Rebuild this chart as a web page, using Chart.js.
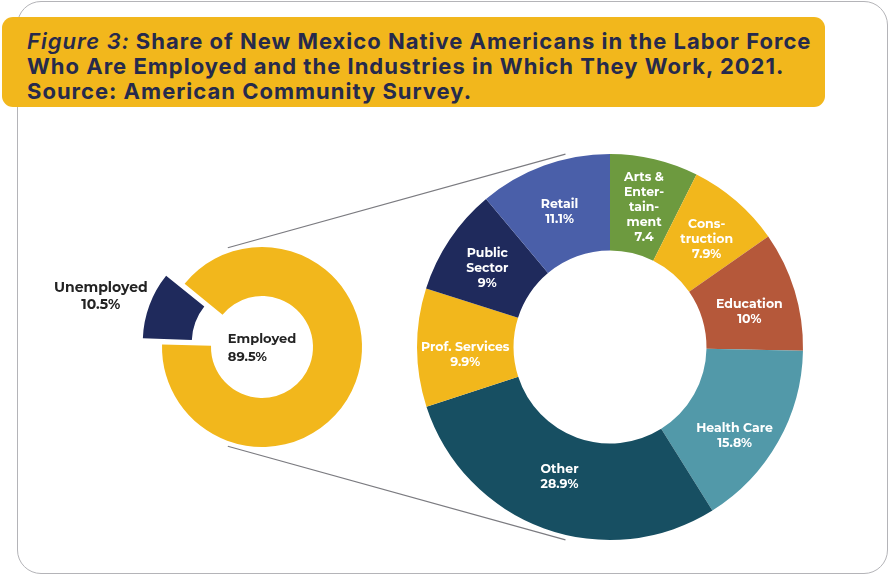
<!DOCTYPE html>
<html>
<head>
<meta charset="utf-8">
<script src="https://cdn.jsdelivr.net/npm/chart.js@4.4.1/dist/chart.umd.min.js"></script>
<style>
  html, body { margin: 0; padding: 0; background: #ffffff; }
  #page { position: relative; width: 892px; height: 577px; overflow: hidden; background: #ffffff; }
  #card {
    position: absolute; left: 17px; top: 1px; width: 871px; height: 573px;
    border: 1.5px solid #b4b4b8; border-radius: 24px; box-sizing: border-box; background: #ffffff;
  }
  #banner {
    position: absolute; left: 2px; top: 17px; width: 823px; height: 90px;
    background: #f2b71c; border-radius: 11px;
  }
  #title {
    position: absolute; left: 27px; top: 29px; margin: 0; white-space: nowrap;
    font-family: "Inter", "Open Sans", sans-serif; font-weight: 700; font-size: 22px;
    line-height: 25px; color: #262a4c; letter-spacing: 1.0px;
  }
  #title em { font-weight: 600; }
  canvas { position: absolute; left: 0; top: 0; }
</style>
</head>
<body>
<div id="page">
  <div id="card"></div>
  <div id="banner"></div>
  <p id="title"><em>Figure 3:</em> Share of New Mexico Native Americans in the Labor Force<br>Who Are Employed and the Industries in Which They Work, 2021.<br>Source: American Community Survey.</p>
  <canvas id="labor" width="892" height="577"></canvas>
  <canvas id="industry" width="892" height="577"></canvas>
</div>
<script>
// Labor force status
const statusLabels = ['Employed', 'Unemployed'];
const statusValues = [89.5, 10.5];
const statusColors = ['#f2b71c', '#1f2a5c'];

// Industries of the employed, clockwise from the top
const industryNames = [
  ['Arts &', 'Enter-', 'tain-', 'ment'],
  ['Cons-', 'truction'],
  ['Education'],
  ['Health Care'],
  ['Other'],
  ['Prof. Services'],
  ['Public', 'Sector'],
  ['Retail']
];
const industryValues = [7.4, 7.9, 10, 15.8, 28.9, 9.9, 9, 11.1];
const industryPercentSign = [false, true, true, true, true, true, true, true];
const industryColors = ['#6d9a3f', '#f2b71c', '#b5583a', '#5299a9', '#174f62', '#f2b71c', '#1f2a5c', '#4a5fa9'];

const LABEL_FONT = '700 12.5px "Montserrat", "Open Sans", sans-serif';
const DARK_FONT = '700 13px "Montserrat", "Open Sans", sans-serif';
const SIDE_FONT = '700 14px "Montserrat", "Open Sans", sans-serif';

function drawLines(ctx, lines, x, y, lineH, align) {
  const top = y - (lines.length - 1) * lineH / 2;
  ctx.textAlign = align || 'center';
  ctx.textBaseline = 'middle';
  lines.forEach((t, i) => ctx.fillText(t, x, top + i * lineH));
}

// Small ring: employed vs. unemployed, with the unemployed slice pulled out
const statusLabelPlugin = {
  id: 'statusLabels',
  afterDatasetsDraw(chart) {
    const ctx = chart.ctx;
    const arcs = chart.getDatasetMeta(0).data;
    const main = arcs[0];
    ctx.save();
    ctx.fillStyle = '#232323';
    ctx.font = DARK_FONT;
    const w = ctx.measureText(statusLabels[0]).width;
    drawLines(ctx, [statusLabels[0], statusValues[0] + '%'], main.x - w / 2, main.y + 1, 18, 'left');
    const un = arcs[1];
    const mid = (un.startAngle + un.endAngle) / 2;
    const r = un.outerRadius * 1.72;
    ctx.font = SIDE_FONT;
    drawLines(ctx, [statusLabels[1], statusValues[1] + '%'], un.x + Math.cos(mid) * r, un.y + Math.sin(mid) * r + 9, 17, 'center');
    ctx.restore();
  }
};

const laborChart = new Chart(document.getElementById('labor'), {
  type: 'doughnut',
  data: {
    labels: statusLabels,
    datasets: [{
      data: statusValues,
      backgroundColor: statusColors,
      borderWidth: 0,
      offset: [0, 58]
    }]
  },
  options: {
    responsive: false,
    animation: false,
    events: [],
    rotation: -50.7,
    cutout: '51%',
    radius: 100,
    layout: { padding: { left: 62, right: 430, top: 147, bottom: 30 } },
    plugins: { legend: { display: false }, tooltip: { enabled: false } }
  },
  plugins: [statusLabelPlugin]
});

// Big ring: industries, plus the two guide lines joining it to the small ring
const industryPlugin = {
  id: 'industryLabels',
  beforeDatasetsDraw(chart) {
    const ctx = chart.ctx;
    const small = laborChart.getDatasetMeta(0).data[0];
    const big = chart.getDatasetMeta(0).data[0];
    const pt = (arc, deg, extra) => {
      const a = (deg - 90) * Math.PI / 180;
      const r = arc.outerRadius + extra;
      return [arc.x + Math.cos(a) * r, arc.y + Math.sin(a) * r];
    };
    ctx.save();
    ctx.strokeStyle = '#7b7b80';
    ctx.lineWidth = 1.2;
    [[-19, -13], [199, 193]].forEach(([a1, a2]) => {
      const p = pt(small, a1, 5);
      const q = pt(big, a2, 5);
      ctx.beginPath();
      ctx.moveTo(p[0], p[1]);
      ctx.lineTo(q[0], q[1]);
      ctx.stroke();
    });
    ctx.restore();
  },
  afterDatasetsDraw(chart, args, opts) {
    const ctx = chart.ctx;
    const arcs = chart.getDatasetMeta(0).data;
    const nudge = opts.nudge || {};
    ctx.save();
    ctx.fillStyle = '#ffffff';
    ctx.font = LABEL_FONT;
    arcs.forEach((arc, i) => {
      const mid = (arc.startAngle + arc.endAngle) / 2;
      const r = (arc.innerRadius + arc.outerRadius) / 2 + 3;
      const [nx, ny] = nudge[i] || [0, 0];
      const v = industryValues[i] + (industryPercentSign[i] ? '%' : '');
      drawLines(ctx, industryNames[i].concat([v]),
        arc.x + Math.cos(mid) * r + nx, arc.y + Math.sin(mid) * r + 4 + ny, 15, 'center');
    });
    ctx.restore();
  }
};

new Chart(document.getElementById('industry'), {
  type: 'doughnut',
  data: {
    labels: industryNames.map(n => n.join(' ')),
    datasets: [{
      data: industryValues,
      backgroundColor: industryColors,
      borderWidth: 0
    }]
  },
  options: {
    responsive: false,
    animation: false,
    events: [],
    rotation: 0,
    cutout: '50%',
    radius: 193,
    layout: { padding: { left: 410, right: 82, top: 147, bottom: 30 } },
    plugins: {
      legend: { display: false },
      tooltip: { enabled: false },
      industryLabels: { nudge: { 2: [-2, 4], 3: [-4, 12], 4: [0, -13], 5: [3, 3] } }
    }
  },
  plugins: [industryPlugin]
});
</script>
</body>
</html>
